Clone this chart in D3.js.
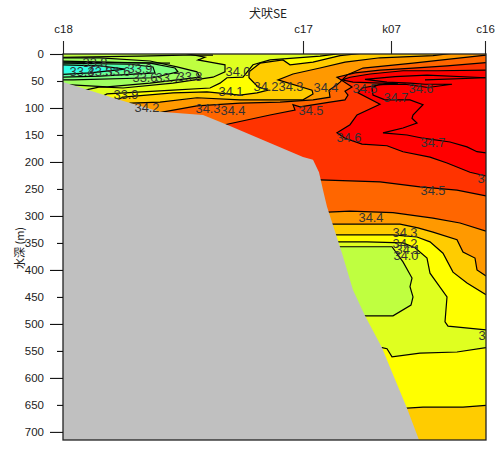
<!DOCTYPE html>
<html>
<head>
<meta charset="utf-8">
<script src="https://cdn.jsdelivr.net/npm/d3@7"></script>
<style>
  html, body { margin: 0; padding: 0; background: #fff; }
  svg { display: block; }
  text { font-family: "Liberation Sans", Arial, sans-serif; }
</style>
</head>
<body>
<svg id="chart" width="499" height="450"></svg>
<script>
// station positions along the section
const stationNames = ['c18', 'c17', 'k07', 'c16'];
const stationDist = [0, 120, 164, 211];
const depthTicks = [0, 50, 100, 150, 200, 250, 300, 350, 400, 450, 500, 550, 600, 650, 700];

// isohalines, each point is [distance, depth in m]
const upper346 = [[211.5,30],[187,31],[170,31],[153.5,37],[143.5,43],[139.5,48],[145,52],[158.5,54],[167.5,54],[158.5,57],[149.5,63],[147.5,72],[158.5,93],[147,113],[143.5,131],[137,146],[141,156],[149.5,167],[162,170],[170,181],[183.5,191],[192,202],[203.5,219],[211.5,226]];
const line347 = [[211.5,44],[182,39],[166,42],[151,47],[162,52],[173.5,54],[181,56],[194.5,56],[182.5,62],[171,56],[157.5,57],[154.5,63],[155,76],[161,85],[173.5,85],[180,94],[175,113],[174.5,119],[177,128],[170,137],[160,146],[172,150],[180,156],[193.5,163],[202,172],[207,181],[211.5,183]];
const line347b = [[181,48],[211.5,44]];

const upper345 = [[211.5,16],[192,22],[175,26],[158.5,30],[146,35],[137,43],[144.5,61],[141,69],[142.5,76],[141,85],[133.5,89],[118.5,98],[115,94],[116,104],[103.5,113],[81,131],[76,150]];
const lower345 = [[126,233],[128.5,233],[158.5,237],[178.5,246],[197,252],[211.5,263]];

const upper344 = [[211.5,2],[175,17],[150,26],[142,39],[138.5,52],[137,57],[133,67],[133.5,80],[125,85],[108.5,89],[88.5,91],[67,96],[47.5,109],[38.5,131]];
const lower344 = [[126,293],[132.5,293],[143.5,291],[165,294],[185,304],[198.5,313],[211.5,328]];

const upper343 = [[196,-2],[185,3],[158.5,7],[141,15],[128.5,26],[115,37],[107.5,48],[124.5,67],[125,74],[120,85],[103.5,85],[88.5,85],[67,81],[48.5,89],[33.5,91],[26,107]];
const lower343 = [[128.5,315],[168.5,315],[177.5,322],[185,330],[197,344],[200,367],[206,378],[207,400],[211.5,411]];

const upper342 = [[151,-2],[138.5,3],[125,15],[113.5,20],[110,11],[98.5,17],[93,33],[93,44],[97.5,61],[102.5,67],[97,72],[88.5,76],[72,70],[55,72],[30,80],[21,96]];
const lower342 = [[131,335],[165,335],[177,339],[183.5,348],[190,369],[195,404],[202,424],[211.5,446]];
const deep342 = [[168.5,656],[172,656],[180,654],[200,654],[211.5,651]];

const upper341 = [[141,-2],[128.5,4],[103.5,11],[95,20],[90,43],[82,44],[78.5,54],[73.5,63],[55,67],[22,74],[14.5,89]];
const lower341 = [[132.5,348],[152,348],[170,350],[176,359],[182,378],[183.5,406],[192,450],[191,496],[192.5,504],[211.5,511]];
const deep341 = [[154.5,544],[159.5,544],[162,546],[164.5,561],[178.5,554],[197,552],[211.5,544]];

// fresh water lens by the surface and the deep core
const fresh340 = [[-1.5,-2],[60,-2],[71,6],[67.5,11],[73.5,15],[81,20],[81,33],[75,43],[55,54],[30,63],[18.5,61],[11,67],[-1.5,67]];
const fresh339 = [[-1.5,7],[18.5,7],[43.5,13],[57,24],[67,33],[68.5,43],[43.5,54],[22,61],[-1.5,56]];
const fresh338 = [[-1.5,13],[43.5,17],[56,26],[57.5,33],[45,44],[5,48],[-1.5,48]];
const fresh337 = [[-1.5,17],[33.5,19],[45,24],[46,35],[18.5,41],[-1.5,43]];
const fresh336 = [[-1.5,19],[26,20],[43.5,26],[28.5,33],[-1.5,41]];
const fresh335 = [[-1.5,20],[18.5,22],[31,28],[13.5,35],[-1.5,38]];
const fresh334 = [[-1.5,22],[16,24],[23.5,30],[8.5,33],[-1.5,35]];
const core340 = [[133.5,357],[164.5,357],[170,385],[174.5,415],[173.5,431],[175,450],[174,465],[165,485],[146,485]];
const surfaceLines = [
  [[0,6],[38.5,4],[60,2],[75,2]],
  [[0,15],[53.5,17]]
];

const bottom = [[0,52],[28.5,85],[48.5,107],[70,113],[82,131],[103.5,165],[120,191],[125,196],[128,219],[130,252],[132,283],[135,317],[139.5,369],[145,437],[151,485],[159.5,544],[164,585],[172,656],[178,715],[0,715]];

// contour labels
const labelText = ['34.0','34.1','34.2','34.3','34.4','34.5','34.6','34.7','34.5','34.6','34.7','34.6','34.5','34.4','34.3','34.2','34.1','34.0','34.1','33.9','34.2','34.3','34.4','33.6','33.7','33.8','33.4','33.5','33.6','33.9','33.8'];
const labelDist = [87.5,84,101.5,114,131.5,151,179,166.5,124,143,185,213.5,185,154,171,171,172.5,171.5,214,31.5,42,72.5,85,41,52.5,63.5,9.5,18.5,27.5,38.5,16];
const labelDepth = [31,69,59,59,61,63,63,80,104,154,163,230,252,302,330,350,361,372,520,74,98,100,104,43,43,41,31,31,31,26,15];

const xMax = 211.5;
const depthMax = 715;

const x = d3.scaleLinear().domain([0, 211]).range([63, 485]);
const y = d3.scaleLinear().domain([0, depthMax]).range([54, 440]);
const line = d3.line().x(d => x(d[0])).y(d => y(d[1]));

// closed band, both ends of the pair of contours finish inside the grey bottom
function band(upper, lower) {
  return [[xMax, upper[0][1]]].concat(upper, lower);
}
function toBottom(c) {
  return c.concat([[xMax, depthMax + 10], [c[0][0], depthMax + 10]]);
}

// painted from low to high salinity, then the fresh parts on top
const fills = [
  { pts: band(upper341, lower341), color: '#ffff00' },
  { pts: toBottom(deep341), color: '#ffff00' },
  { pts: band(upper342, lower342), color: '#ffcc00' },
  { pts: toBottom(deep342), color: '#ffcc00' },
  { pts: band(upper343, lower343), color: '#ff9900' },
  { pts: band(upper344, lower344), color: '#ff6600' },
  { pts: band(upper345, lower345), color: '#ff3300' },
  { pts: upper346, color: '#ff0000' },
  { pts: fresh340, color: '#bfff40' },
  { pts: fresh339, color: '#9fff60' },
  { pts: fresh338, color: '#80ff80' },
  { pts: fresh337, color: '#70ff90' },
  { pts: fresh336, color: '#50ffb0' },
  { pts: fresh335, color: '#40ffd0' },
  { pts: fresh334, color: '#30ffe8' },
  { pts: core340, color: '#bfff40' }
];

const lines = [upper341, lower341, deep341, upper342, lower342, deep342, upper343, lower343,
  upper344, lower344, upper345, lower345, upper346, line347, line347b,
  fresh339, fresh338, fresh337, fresh335, fresh340, core340].concat(surfaceLines);

const svg = d3.select('#chart');

svg.append('defs').append('clipPath').attr('id', 'plot')
  .append('rect')
  .attr('x', x(0)).attr('y', y(0))
  .attr('width', x(xMax) - x(0)).attr('height', y(depthMax) - y(0));

const g = svg.append('g').attr('clip-path', 'url(#plot)');

g.append('rect')
  .attr('x', x(0)).attr('y', y(0))
  .attr('width', x(xMax) - x(0)).attr('height', y(depthMax) - y(0))
  .attr('fill', '#dfff20');

g.selectAll('.fill')
  .data(fills)
  .enter().append('path')
  .attr('class', 'fill')
  .attr('d', d => line(d.pts) + 'Z')
  .attr('fill', d => d.color);

g.selectAll('.iso')
  .data(lines)
  .enter().append('path')
  .attr('class', 'iso')
  .attr('d', line)
  .attr('fill', 'none')
  .attr('stroke', '#000')
  .attr('stroke-width', 1.2);

g.append('path')
  .attr('d', line(bottom) + 'Z')
  .attr('fill', '#c0c0c0');

g.selectAll('.lab')
  .data(labelText)
  .enter().append('text')
  .attr('class', 'lab')
  .attr('x', (d, i) => x(labelDist[i]))
  .attr('y', (d, i) => y(labelDepth[i]) + 5)
  .attr('text-anchor', 'middle')
  .attr('font-size', 13.5)
  .attr('textLength', 25)
  .attr('lengthAdjust', 'spacingAndGlyphs')
  .attr('fill', '#333')
  .text(d => d);

// frame
svg.append('rect')
  .attr('x', x(0)).attr('y', y(0))
  .attr('width', x(xMax) - x(0)).attr('height', y(depthMax) - y(0))
  .attr('fill', 'none')
  .attr('stroke', '#222')
  .attr('stroke-width', 1.3);

// depth axis, long ticks on the hundreds
const yAxis = svg.append('g')
  .attr('transform', 'translate(' + x(0) + ',0)')
  .call(d3.axisLeft(y).tickValues(depthTicks).tickFormat(d3.format('d')).tickSize(13).tickPadding(6));
yAxis.select('.domain').remove();
yAxis.selectAll('.tick line')
  .attr('x2', d => d % 100 ? -6 : -13)
  .attr('stroke', '#111')
  .attr('stroke-width', 1.1);
yAxis.selectAll('.tick text')
  .attr('font-family', '"Liberation Sans", Arial, sans-serif')
  .attr('font-size', 11.5)
  .attr('fill', '#222');

// station axis
const xAxis = svg.append('g')
  .attr('transform', 'translate(0,' + y(0) + ')')
  .call(d3.axisTop(x).tickValues(stationDist).tickFormat((d, i) => stationNames[i]).tickSize(13).tickPadding(8));
xAxis.select('.domain').remove();
xAxis.selectAll('.tick line')
  .attr('stroke', '#222')
  .attr('stroke-width', 1.1);
xAxis.selectAll('.tick text')
  .attr('font-family', '"Liberation Sans", Arial, sans-serif')
  .attr('font-size', 11.5)
  .attr('fill', '#222');

// title
svg.append('text')
  .attr('x', 268).attr('y', 18)
  .attr('text-anchor', 'middle')
  .attr('font-size', 12)
  .style('font-family', '"Noto Sans CJK JP", sans-serif')
  .attr('fill', '#222')
  .text('犬吠SE');

// depth label
svg.append('text')
  .attr('transform', 'translate(24,248) rotate(-90)')
  .attr('text-anchor', 'middle')
  .attr('font-size', 11)
  .style('font-family', '"Noto Sans CJK JP", sans-serif')
  .attr('fill', '#222')
  .text('水深 (m)');
</script>
</body>
</html>
